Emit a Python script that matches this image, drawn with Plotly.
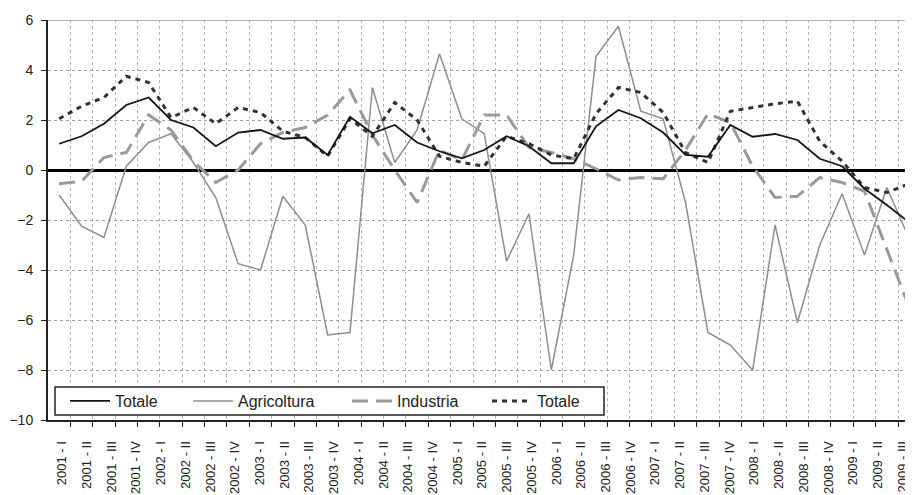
import plotly.graph_objects as go

# ---- data (quarterly, 39 observations) ----
totale = [1.05, 1.35, 1.85, 2.6, 2.9, 2.0, 1.7, 0.95, 1.5, 1.6,
          1.25, 1.3, 0.6, 2.13, 1.47, 1.8, 1.1, 0.75, 0.47, 0.8,
          1.35, 0.95, 0.27, 0.27, 1.75, 2.4, 2.07, 1.5, 0.6, 0.53,
          1.8, 1.33, 1.44, 1.2, 0.45, 0.15, -0.75, -1.4, -2.1]
agricoltura = [-1.0, -2.25, -2.7, 0.15, 1.1, 1.45, 0.3, -1.1, -3.75, -4.0,
               -1.05, -2.2, -6.6, -6.5, 3.3, 0.3, 1.6, 4.65, 2.05, 1.45,
               -3.65, -1.75, -8.0, -3.4, 4.55, 5.75, 2.35, 2.05, -1.3, -6.5,
               -7.0, -8.0, -2.2, -6.1, -3.0, -0.95, -3.4, -0.7, -2.75]
industria = [-0.55, -0.45, 0.5, 0.7, 2.2, 1.6, 0.35, -0.5, 0.0, 1.05,
             1.5, 1.7, 2.2, 3.2, 1.4, 0.0, -1.3, 0.8, 0.4, 2.2,
             2.2, 0.9, 0.7, 0.45, 0.05, -0.4, -0.3, -0.35, 0.8, 2.25,
             1.9, 0.15, -1.1, -1.05, -0.3, -0.5, -0.85, -3.2, -5.5]
totale_b = [2.05, 2.55, 2.9, 3.75, 3.5, 2.1, 2.5, 1.85, 2.5, 2.3,
            1.55, 1.3, 0.55, 2.05, 1.35, 2.7, 2.0, 0.55, 0.3, 0.15,
            1.35, 1.05, 0.6, 0.45, 2.25, 3.3, 3.1, 2.3, 0.7, 0.3,
            2.35, 2.5, 2.65, 2.75, 1.15, 0.35, -0.7, -0.9, -0.55]

years = ["2001", "2002", "2003", "2004", "2005", "2006", "2007", "2008", "2009"]
quarters = ["I", "II", "III", "IV"]
tick_labels = [f"{y} - {q}" for y in years for q in quarters][:35]

series_names = ["Totale", "Agricoltura", "Industria", "Totale"]

# ---- layout helpers ----
OFF = 8  # page body margin of the html page
W, H = 913 - OFF, 495 - OFF
ML, MR, MT, MB = 48 - OFF, 0, 20 - OFF, 75
PW = W - ML - MR
PH = H - MT - MB
CAT_PX = 22.37
n = len(totale)
x = list(range(n))
x_max = -0.5 + PW / CAT_PX

LABEL_START = 0.126
LABEL_STEP = 1.1050
label_pos = [LABEL_START + i * LABEL_STEP for i in range(len(tick_labels))]


def px_x(p):
    return (p - OFF - ML) / PW


def px_y(p):
    return (MT + PH - (p - OFF)) / PH


FONT = "Liberation Sans, Arial, sans-serif"

fig = go.Figure()
fig.add_trace(go.Scatter(x=x, y=agricoltura, mode="lines", name=series_names[1],
                         line=dict(color="#8e8e8e", width=1.5), legend="legend2",
                         showlegend=True))
fig.add_trace(go.Scatter(x=x, y=industria, mode="lines", name=series_names[2],
                         line=dict(color="#9a9a9a", width=3, dash="16px,8px"), legend="legend3",
                         showlegend=True))
fig.add_trace(go.Scatter(x=x, y=totale_b, mode="lines", name=series_names[3],
                         line=dict(color="#333333", width=3, dash="5px,5px"), legend="legend4",
                         showlegend=True))
fig.add_trace(go.Scatter(x=x, y=totale, mode="lines", name=series_names[0],
                         line=dict(color="#151515", width=1.8), legend="legend",
                         showlegend=True))

leg_common = dict(orientation="h", bgcolor="rgba(0,0,0,0)", borderwidth=0,
                  font=dict(family=FONT, size=16, color="#222"),
                  itemwidth=40, yanchor="middle", xanchor="left", y=px_y(401))

fig.update_layout(
    width=W, height=H,
    showlegend=True,
    margin=dict(l=ML, r=MR, t=MT, b=MB, autoexpand=False),
    paper_bgcolor="white", plot_bgcolor="white",
    font=dict(family=FONT, color="#222"),
    legend=dict(x=px_x(65), **leg_common),
    legend2=dict(x=px_x(188), **leg_common),
    legend3=dict(x=px_x(347), **leg_common),
    legend4=dict(x=px_x(487), **leg_common),
    xaxis=dict(
        range=[-0.5, x_max], showline=True, linecolor="#222", linewidth=2,
        tickmode="array", tickvals=label_pos, ticktext=tick_labels,
        ticks="", tickangle=-90, tickfont=dict(size=13, color="#222"),
        ticklabelstandoff=14, automargin=False, ticklabeloverflow="allow",
        showgrid=False, zeroline=False,
        minor=dict(tickmode="array", tickvals=[k - 0.5 for k in range(1, n)],
                   ticks="outside", ticklen=5, tickcolor="#222", tickwidth=1,
                   showgrid=True, gridcolor="#b5b5b5", griddash="dot", gridwidth=1),
    ),
    yaxis=dict(
        range=[-10, 6], tick0=0, dtick=2, showline=True, linecolor="#222", linewidth=2,
        ticks="outside", ticklen=5, tickcolor="#222", tickfont=dict(size=14, color="#222"),
        ticklabelstandoff=5, automargin=False,
        showgrid=True, gridcolor="#a0a0a0", griddash="dot", gridwidth=1,
        zeroline=True, zerolinecolor="#000", zerolinewidth=3,
    ),
    shapes=[
        dict(type="line", xref="paper", yref="y", x0=0, x1=1, y0=6, y1=6,
             line=dict(color="#999", width=1.5)),
        dict(type="rect", xref="paper", yref="paper", layer="above",
             x0=px_x(55), x1=px_x(604), y0=px_y(415), y1=px_y(387),
             line=dict(color="#222", width=1.5), fillcolor="white"),
    ],
)

fig.write_html("out.html")
